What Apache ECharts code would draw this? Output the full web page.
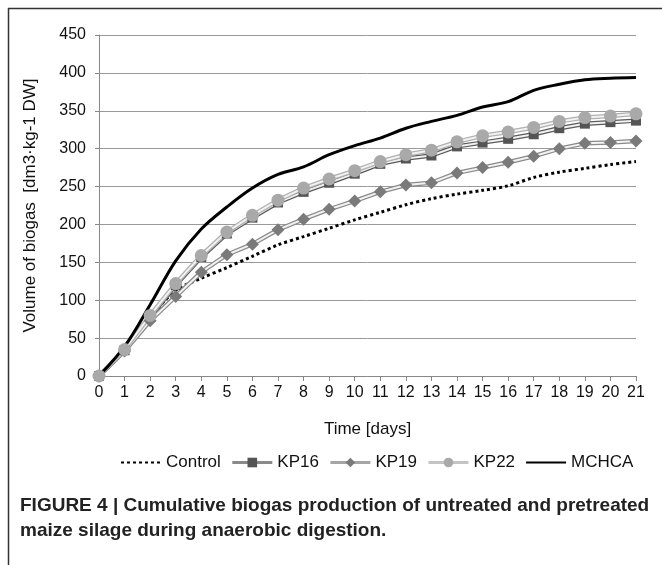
<!DOCTYPE html>
<html>
<head>
<meta charset="utf-8">
<script src="https://cdn.jsdelivr.net/npm/echarts@6/dist/echarts.min.js"></script>
<style>
html,body{margin:0;padding:0;background:#fff;}
#chart{width:662px;height:565px;}
</style>
</head>
<body>
<div id="chart"></div>
<script>
const days = ['0','1','2','3','4','5','6','7','8','9','10','11','12','13','14','15','16','17','18','19','20','21'];
const yTicks = {min: 0, max: 450, interval: 50};
const control = [0,33,77,113,129,143,158,173,184,195,206,216,226,234,240,245,251,262,269,274,279,283];
const kp16 = [0,34,78,120,157,188,209,229,243,255,267,280,287,291,303,308,313,319,327,333,335,337];
const kp19 = [0,33,73,105,137,160,174,193,207,220,231,243,252,255,268,275,282,290,300,307,308,310];
const kp22 = [0,35,80,122,159,190,212,232,248,260,271,283,292,298,309,317,322,328,336,341,343,346];
const mchca = [0,39,94,152,194,223,248,266,276,292,304,314,327,336,344,355,362,377,385,391,393,394];
const seriesNames = ['Control','KP16','KP19','KP22','MCHCA'];
const captionLines = ['FIGURE 4 | Cumulative biogas production of untreated and pretreated','maize silage during anaerobic digestion.'];

const FONT = "'Liberation Sans', Arial, sans-serif";
const chart = echarts.init(document.getElementById('chart'), null, {renderer:'canvas'});

function marked(name, data, outline, symbol, size, mcolor) {
  return [
    {name: name + '_outline', type:'line', data: data, showSymbol:false, symbol:'none',
     lineStyle:{color: outline, width: 4.5}, silent:true, emphasis:{disabled:true}},
    {name: name, type:'line', data: data, symbol: symbol, symbolSize: size,
     itemStyle:{color: mcolor, borderColor: mcolor, borderWidth: 0},
     lineStyle:{color:'#f2f2f2', width: 2}, emphasis:{disabled:true}}
  ];
}

const option = {
  animation:false,
  textStyle:{fontFamily: FONT},
  grid:{left:99, right:26, top:35, bottom:189, containLabel:false},
  legend:{
    data: [
      {name:seriesNames[0], itemStyle:{opacity:0}},
      {name:seriesNames[1], lineStyle:{color:'#8a8a8a', width:3}},
      {name:seriesNames[2], lineStyle:{color:'#a5a5a5', width:3}},
      {name:seriesNames[3], lineStyle:{color:'#c4c4c4', width:3}},
      {name:seriesNames[4], itemStyle:{opacity:0}}
    ],
    left:115, top:449, itemWidth:40, itemHeight:12, itemGap:10,
    textStyle:{fontSize:17, color:'#111', fontFamily: FONT}, selectedMode:false
  },
  xAxis:{
    type:'category', data: days, boundaryGap:false,
    name:'Time [days]', nameLocation:'middle', nameGap:45,
    nameTextStyle:{fontSize:17, color:'#111'},
    axisLine:{lineStyle:{color:'#888', width:1}},
    axisTick:{show:true, length:5, alignWithLabel:true, lineStyle:{color:'#888'}},
    axisLabel:{fontSize:16, color:'#111', margin:9, interval:0},
    splitLine:{show:false}
  },
  yAxis:{
    type:'value', min:yTicks.min, max:yTicks.max, interval:yTicks.interval,
    name:'Volume of biogas  [dm3·kg-1 DW]', nameLocation:'middle', nameGap:60,
    nameTextStyle:{fontSize:17, color:'#111'},
    axisLine:{show:true, lineStyle:{color:'#888', width:1}},
    axisTick:{show:true, length:4, lineStyle:{color:'#888'}},
    axisLabel:{fontSize:16, color:'#111', margin:13},
    splitLine:{lineStyle:{color:'#9a9a9a', width:1}}
  },
  series: [
    {name:seriesNames[0], type:'line', data: control, symbol:'none', smooth:0.3,
     lineStyle:{color:'#000', width:3, type:[3,3]}, itemStyle:{color:'#000'}, emphasis:{disabled:true}},
    ...marked(seriesNames[1], kp16, '#5a5a5a', 'rect', 10, '#555555'),
    ...marked(seriesNames[2], kp19, '#8a8a8a', 'diamond', 13, '#7a7a7a'),
    ...marked(seriesNames[3], kp22, '#b0b0b0', 'circle', 13, '#a9a9a9'),
    {name:seriesNames[4], type:'line', data: mchca, symbol:'none', smooth:0.35,
     lineStyle:{color:'#000', width:3}, itemStyle:{color:'#000'}, emphasis:{disabled:true}}
  ],
  graphic:[
    {type:'line', shape:{x1:8, y1:8.5, x2:662, y2:8.5}, style:{stroke:'#333', lineWidth:1.5}},
    {type:'line', shape:{x1:8.5, y1:8, x2:8.5, y2:565}, style:{stroke:'#333', lineWidth:1.5}},
    {type:'text', left:20, top:496, style:{text: captionLines[0], font:"bold 19px 'Liberation Sans', Arial, sans-serif", fill:'#222'}},
    {type:'text', left:20, top:521, style:{text: captionLines[1], font:"bold 19px 'Liberation Sans', Arial, sans-serif", fill:'#222'}}
  ]
};
chart.setOption(option);
</script>
</body>
</html>
